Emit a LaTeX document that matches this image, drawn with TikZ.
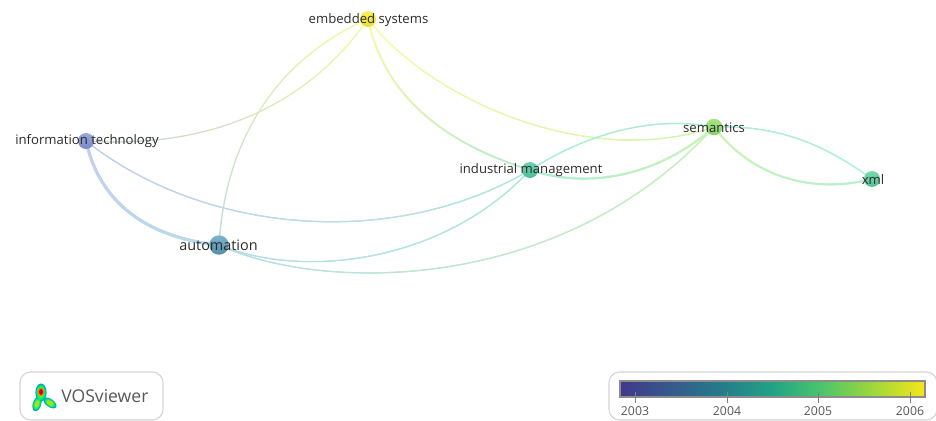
\documentclass[tikz,border=0pt]{standalone}
\usepackage{fontspec}
\setmainfont{Open Sans}
\usetikzlibrary{calc}
\definecolor{ctxt}{HTML}{2A2A2A}
\definecolor{itT}{HTML}{98A8DC}\definecolor{itB}{HTML}{7A88C4}
\definecolor{auT}{HTML}{7DB4CC}\definecolor{auB}{HTML}{4F8EA8}
\definecolor{emT}{HTML}{F7EE60}\definecolor{emB}{HTML}{EBDF2E}
\definecolor{inT}{HTML}{70D4B0}\definecolor{inB}{HTML}{4ABC96}
\definecolor{seT}{HTML}{A8E484}\definecolor{seB}{HTML}{84D068}
\definecolor{xmT}{HTML}{78D8AE}\definecolor{xmB}{HTML}{50C494}
\definecolor{eem}{HTML}{F9F9A8}
\definecolor{eit}{HTML}{C4D0F0}
\definecolor{eau}{HTML}{B8DCE8}
\definecolor{ein}{HTML}{AEECD6}
\definecolor{ese}{HTML}{CCF4AE}
\definecolor{exm}{HTML}{B2F0DA}
\pgfdeclarehorizontalshading{viridisbar}{100bp}{
rgb(0bp)=(0.25,0.22,0.55);
rgb(25bp)=(0.25,0.22,0.55);
rgb(32bp)=(0.22,0.33,0.55);
rgb(41bp)=(0.15,0.47,0.55);
rgb(50bp)=(0.13,0.64,0.52);
rgb(58bp)=(0.30,0.77,0.42);
rgb(66bp)=(0.60,0.84,0.24);
rgb(75bp)=(0.97,0.90,0.10);
rgb(100bp)=(0.97,0.90,0.10)}
\tikzset{
 kw/.style={circle,inner sep=0pt,draw=none},
 lab/.style={text=ctxt,font=\fontsize{9.85}{12}\selectfont,inner sep=0pt},
 edge/.style={line width=#1,line cap=round},
 edge/.default=0.9pt,
 panel/.style={draw=black!17,line width=0.8pt,rounded corners=8pt,fill=white},
 tick/.style={draw=black!50,line width=0.7pt},
 ticklab/.style={text=black!65,font=\fontsize{9.2}{11}\selectfont,inner sep=0pt}
}
% curve from #1 to #2, controls #3 and #4, colours #5 to #6, width #7
\newcommand\gradcurve[7]{%
 \draw[edge=#7,#5] (#1) .. controls (#3) and (#4) .. (#2);
 \path let \p1=(#1),\p2=(#3),\p3=(#4),\p4=(#2),
  \n1={\x1/1pt},\n2={\y1/1pt},\n3={\x2/1pt},\n4={\y2/1pt},
  \n5={\x3/1pt},\n6={\y3/1pt},\n7={\x4/1pt},\n8={\y4/1pt} in
  \pgfextra{%
  \foreach \i in {1,...,30}{%
   \pgfmathsetmacro\ta{(\i-1)/30}\pgfmathsetmacro\tb{\i/30}%
   \pgfmathsetmacro\ua{1-\ta}\pgfmathsetmacro\ub{1-\tb}%
   \pgfmathsetmacro\xa{\ua^3*\n1+3*\ua^2*\ta*\n3+3*\ua*\ta^2*\n5+\ta^3*\n7}%
   \pgfmathsetmacro\ya{\ua^3*\n2+3*\ua^2*\ta*\n4+3*\ua*\ta^2*\n6+\ta^3*\n8}%
   \pgfmathsetmacro\xb{\ub^3*\n1+3*\ub^2*\tb*\n3+3*\ub*\tb^2*\n5+\tb^3*\n7}%
   \pgfmathsetmacro\yb{\ub^3*\n2+3*\ub^2*\tb*\n4+3*\ub*\tb^2*\n6+\tb^3*\n8}%
   \pgfmathsetmacro\mx{100*(\i-0.5)/30}%
   \draw[edge=#7,#6!\mx!#5] (\xa pt,\ya pt) -- (\xb pt,\yb pt);
  }};
}
\begin{document}
\begin{tikzpicture}[x=0.75pt,y=-0.75pt]
\useasboundingbox (0,0) rectangle (936,421);
\coordinate (em) at (368,19);
\coordinate (it) at (86,141);
\coordinate (au) at (219,245);
\coordinate (in) at (530,170);
\coordinate (se) at (714,127);
\coordinate (xm) at (872,179);
% edges
\gradcurve{em}{it}{315,95}{225,150}{eem}{eit}{0.9pt}
\gradcurve{em}{au}{285,55}{226,130}{eem}{eau}{0.9pt}
\gradcurve{em}{in}{385,100}{450,145}{eem}{ein}{1.3pt}
\gradcurve{em}{se}{430,100}{590,170}{eem}{ese}{0.9pt}
\gradcurve{it}{au}{100,205}{150,238}{eit}{eau}{2.2pt}
\gradcurve{it}{in}{205,235}{395,250}{eit}{ein}{0.9pt}
\gradcurve{au}{in}{305,280}{445,262}{eau}{ein}{0.9pt}
\gradcurve{au}{se}{320,292}{560,296}{eau}{ese}{0.9pt}
\gradcurve{in}{se}{585,135}{650,115}{ein}{ein}{0.9pt}
\gradcurve{in}{se}{590,190}{660,175}{ein}{ese}{1.4pt}
\gradcurve{se}{xm}{780,125}{825,145}{ein}{exm}{0.9pt}
\gradcurve{se}{xm}{750,175}{810,195}{ese}{exm}{1.4pt}
% nodes
\node[kw,top color=emT,bottom color=emB,minimum size=12pt] (nem) at (em) {};
\node[kw,top color=itT,bottom color=itB,minimum size=12pt] (nit) at (it) {};
\node[kw,top color=auT,bottom color=auB,minimum size=14.6pt] (nau) at (au) {};
\node[kw,top color=inT,bottom color=inB,minimum size=12pt] (nin) at (in) {};
\node[kw,top color=seT,bottom color=seB,minimum size=12.4pt] (nse) at (se) {};
\node[kw,top color=xmT,bottom color=xmB,minimum size=12pt] (nxm) at (xm) {};
\node[lab] at (368.5,20) {embedded systems};
\node[lab] at (87,141) {information technology};
\node[lab,font=\fontsize{10.8}{13}\selectfont] at (218.5,245.5) {automation};
\node[lab] at (531,170) {industrial management};
\node[lab] at (714,128) {semantics};
\node[lab] at (873,179.5) {xml};
% logo panel
\draw[panel] (20,372) rectangle (163,420);
\foreach \cc/\ss in {cyan!75!green/1,green!70!cyan/0.78,yellow!70!green/0.52}{
 \fill[\cc] (41,392.5) ellipse ({5.6*\ss} and {9*\ss});
 \fill[\cc,rotate around={-18:(37,404)}] (37,404) ellipse ({4.2*\ss} and {7.5*\ss});
 \fill[\cc,rotate around={-35:(50,403)}] (50,403) ellipse ({7.5*\ss} and {4*\ss});
}
\fill[orange] (41,392) ellipse (3.2 and 4.4);
\fill[red!85!black] (41,392) ellipse (2 and 3);
\node[text=black!65,font=\fontsize{13.2}{15}\selectfont,inner sep=0pt,anchor=west] (vos) at (61,396) {VOSviewer};
% colour bar panel
\draw[panel] (609,372) rectangle (937,420);
\draw[draw=black!45,line width=0.8pt,shading=viridisbar] (620,381) rectangle (925,397);
\foreach \xx/\yr in {635/2003,727/2004,818/2005,910/2006}{
 \draw[tick] (\xx,392) -- (\xx,403);
 \node[ticklab] at (\xx,411) {\yr};
}
\end{tikzpicture}
\end{document}
